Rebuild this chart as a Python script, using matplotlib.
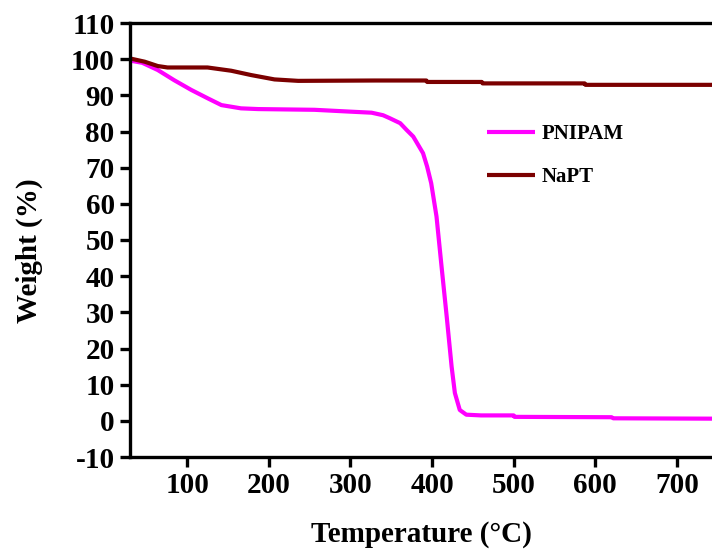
import matplotlib
matplotlib.use("Agg")
import matplotlib.pyplot as plt

# Data
pnipam_temp = [30, 45, 64, 84, 105, 125, 142, 166, 187, 256, 299, 326, 340, 348, 361, 369, 377,
               383, 389, 394, 399, 405.5, 411.7, 418, 424, 428, 434, 442, 460, 500, 501, 620, 622, 743]
pnipam_weight = [99.6, 99.0, 97.0, 94.2, 91.5, 89.2, 87.3, 86.4, 86.2, 86.0, 85.5, 85.2, 84.5, 83.7, 82.3,
                 80.4, 78.6, 76.3, 74.0, 70.3, 65.7, 56.5, 42.6, 28.8, 15.0, 7.7, 3.0, 1.7, 1.5, 1.5,
                 1.1, 1.0, 0.7, 0.6]

napt_temp = [30, 48, 64, 76, 125, 154, 178.5, 207, 236, 330, 393, 394, 461, 462, 587, 588, 743]
napt_weight = [100.2, 99.3, 98.1, 97.7, 97.7, 96.8, 95.6, 94.4, 94.0, 94.1, 94.1, 93.7, 93.7,
               93.3, 93.3, 92.9, 92.9]

series_labels = ["PNIPAM", "NaPT"]
x_ticks = [100, 200, 300, 400, 500, 600, 700]
y_ticks = list(range(-10, 111, 10))

plt.rcParams['font.family'] = ['Liberation Serif', 'DejaVu Serif']
plt.rcParams['font.weight'] = 'bold'
plt.rcParams['axes.unicode_minus'] = False

W, H = 712, 550
fig = plt.figure(figsize=(W / 100, H / 100), dpi=100)
ax = fig.add_axes([130 / W, (H - 457) / H, (W - 130) / W, (457 - 23) / H])

ax.plot(pnipam_temp, pnipam_weight, color='#FF00FF', lw=3, label=series_labels[0],
        solid_capstyle='butt', solid_joinstyle='round')
ax.plot(napt_temp, napt_weight, color='#7B0000', lw=3, label=series_labels[1],
        solid_capstyle='butt', solid_joinstyle='round')

ax.set_xlim(30, 743)
ax.set_ylim(-10, 110)
ax.set_xticks(x_ticks)
ax.set_yticks(y_ticks)

for s in ['left', 'bottom', 'top']:
    ax.spines[s].set_linewidth(2.4)
ax.spines['right'].set_visible(False)
ax.tick_params(axis='both', direction='out', length=7, width=2.4, labelsize=21, pad=4)
for lab in ax.get_xticklabels() + ax.get_yticklabels():
    lab.set_fontweight('bold')

ax.set_xlabel('Temperature (°C)', fontsize=21, fontweight='bold', labelpad=16)
ax.set_ylabel('Weight (%)', fontsize=21, fontweight='bold')
ax.yaxis.set_label_coords(-0.15, 0.475)

leg = ax.legend(loc='upper left', bbox_to_anchor=(487 / W, 1 - 124 / H), bbox_transform=fig.transFigure,
                frameon=False, fontsize=15, handlelength=2.3, handletextpad=0.3, labelspacing=1.1,
                borderpad=0, borderaxespad=0)
for t in leg.get_texts():
    t.set_fontweight('bold')

fig.savefig('out.png', dpi=100)
